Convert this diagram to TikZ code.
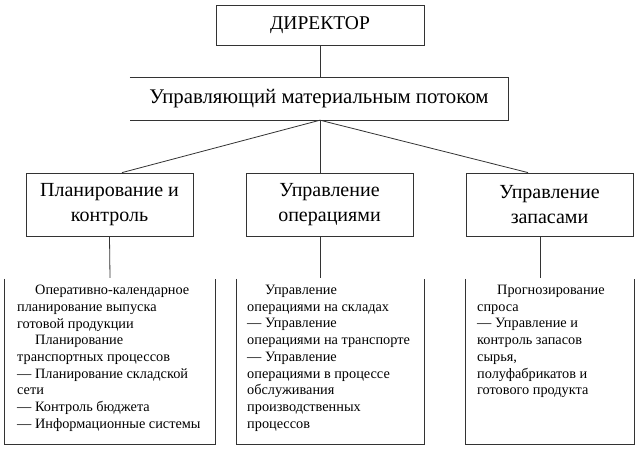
\documentclass[tikz,border=0pt]{standalone}
\usepackage{fontspec}
\setmainfont{Liberation Serif}
\begin{document}
\begin{tikzpicture}[x=1pt,y=-1pt,
  line/.style={draw=black!80,line width=0.8pt},
  topbox/.style={line,rectangle,inner sep=0pt,align=center,font=\fontsize{20}{25.7}\selectfont},
  bare/.style={rectangle,inner sep=0pt},
  lowtext/.style={anchor=north west,inner sep=0pt,align=left,font=\fontsize{14.3}{16.7}\selectfont}]
\useasboundingbox[fill=white] (0,0) rectangle (639,452);
% top levels
\node[topbox,minimum width=208pt,minimum height=40pt,font=\fontsize{19.5}{24}\selectfont] (dir) at (320,25) {ДИРЕКТОР};
\node[bare,align=center,font=\fontsize{20.8}{25}\selectfont,minimum width=378pt,minimum height=42pt] (mgr) at (319,99) {Управляющий материальным потоком};
\draw[line] (mgr.north west) -- (mgr.north east) -- (mgr.south east) -- (mgr.south west);
% middle level
\node[topbox,minimum width=167pt,minimum height=63pt] (plan) at (109.5,204.5) {Планирование и\\контроль};
\node[topbox,minimum width=167pt,minimum height=63pt] (ops) at (329.5,204.5) {Управление\\операциями};
\node[topbox,minimum width=167pt,minimum height=63pt] (stock) at (549.5,204.5) {Управление\\запасами};
% lower boxes (open at top)
\node[bare,minimum width=210pt,minimum height=165pt] (lo1) at (110,361.5) {};
\node[bare,minimum width=187pt,minimum height=165pt] (lo2) at (330.5,361.5) {};
\node[bare,minimum width=168pt,minimum height=165pt] (lo3) at (550,361.5) {};
\foreach \b in {lo1,lo2,lo3}{
  \draw[line] (\b.north west) |- (\b.south east) -- (\b.north east);
}
% connectors
\draw[line] (dir.south) -- (mgr.north -| dir.south);
\draw[line] (mgr.south -| dir.south) -- ([xshift=12.5pt]plan.north);
\draw[line] (mgr.south -| dir.south) -- ([xshift=-9.5pt]ops.north);
\draw[line] (mgr.south -| dir.south) -- ([xshift=-21.5pt]stock.north);
\draw[line] (plan.south) -- ([yshift=1pt]lo1.north);
\draw[line] ([xshift=-9.5pt]ops.south) -- ([xshift=-10.5pt,yshift=1pt]lo2.north);
\draw[line] ([xshift=-9.5pt]stock.south) -- ([xshift=-10pt,yshift=1pt]lo3.north);
% lower texts
\node[lowtext] (t1) at (17,285) {\hspace*{18pt}Оперативно-календарное\\планирование выпуска\\готовой продукции\\\hspace*{18pt}Планирование\\транспортных процессов\\— Планирование складской\\сети\\— Контроль бюджета\\— Информационные системы};
\node[lowtext] (t2) at (247,285) {\hspace*{18pt}Управление\\операциями на складах\\— Управление\\операциями на транспорте\\— Управление\\операциями в процессе\\обслуживания\\производственных\\процессов};
\node[lowtext] (t3) at (477,285) {\hspace*{20pt}Прогнозирование\\спроса\\— Управление и\\контроль запасов\\сырья,\\полуфабрикатов и\\готового продукта};
\end{tikzpicture}
\end{document}
